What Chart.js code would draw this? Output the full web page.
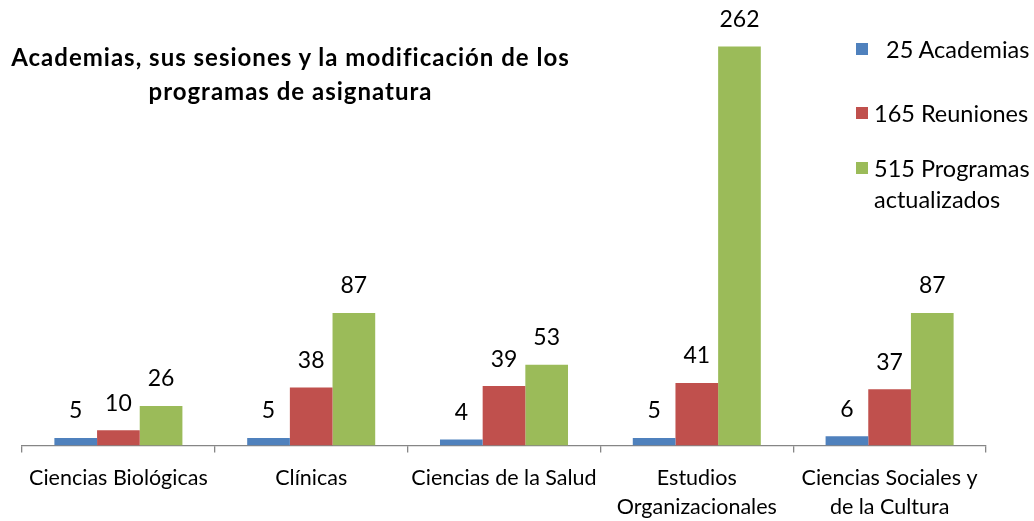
<!DOCTYPE html>
<html>
<head>
<meta charset="utf-8">
<script src="https://cdn.jsdelivr.net/npm/chart.js@4"></script>
<style>
  html, body { margin: 0; padding: 0; background: #fff; }
  #wrap { position: relative; width: 1034px; height: 521px; overflow: hidden; }
  canvas { position: absolute; left: 0; top: 0; }
  .title { position: absolute; left: 0; top: 40px; width: 581px; text-align: center;
           font-family: Lato, "Open Sans", sans-serif; font-weight: bold; font-size: 24px;
           letter-spacing: 1px; line-height: 34px; color: #000; white-space: nowrap; }
  .legend { position: absolute; left: 856px; top: 0; font-family: Lato, "Open Sans", sans-serif;
            font-size: 23.5px; color: #000; }
  .sw { position: absolute; left: 0; width: 12px; height: 12px; }
  .txt { position: absolute; white-space: nowrap; line-height: 30.5px; }
</style>
</head>
<body>
<div id="wrap">
  <canvas id="c" width="1034" height="521"></canvas>
  <div class="title">Academias, sus sesiones y la modificación de los<br>programas de asignatura</div>
  <div class="legend" id="legend"></div>
</div>
<script>
const categories = [
  "Ciencias Biológicas",
  "Clínicas",
  "Ciencias de la Salud",
  ["Estudios", "Organizacionales"],
  ["Ciencias Sociales y", "de la Cultura"]
];
const seriesNames = ["  25 Academias", "165 Reuniones", "515 Programas\nactualizados"];
const academias = [5, 5, 4, 5, 6];
const reuniones = [10, 38, 39, 41, 37];
const programas = [26, 87, 53, 262, 87];
const colors = ["#4F81BD", "#C0504D", "#9BBB59"];

// HTML legend
const legendEl = document.getElementById('legend');
const swatchTops = [43, 107, 162];
seriesNames.forEach((name, i) => {
  const sw = document.createElement('div');
  sw.className = 'sw';
  sw.style.top = swatchTops[i] + 'px';
  sw.style.background = colors[i];
  legendEl.appendChild(sw);
  const t = document.createElement('div');
  t.className = 'txt';
  t.style.left = '18px';
  t.style.top = (swatchTops[i] - 9) + 'px';
  t.innerHTML = name.replace(/ /g, '&nbsp;').replace('\n', '<br>');
  legendEl.appendChild(t);
});

const valueLabels = {
  id: 'valueLabels',
  afterDatasetsDraw(chart) {
    const ctx = chart.ctx;
    ctx.save();
    ctx.font = '23px Lato, "Open Sans", sans-serif';
    ctx.fillStyle = '#000';
    ctx.textAlign = 'center';
    ctx.textBaseline = 'middle';
    chart.data.datasets.forEach((ds, di) => {
      const meta = chart.getDatasetMeta(di);
      meta.data.forEach((bar, i) => {
        ctx.fillText(String(ds.data[i]), bar.x, bar.y - 27);
      });
    });
    ctx.restore();
  }
};

new Chart(document.getElementById('c'), {
  type: 'bar',
  data: {
    labels: categories,
    datasets: [
      { label: seriesNames[0], data: academias, backgroundColor: colors[0] },
      { label: seriesNames[1], data: reuniones, backgroundColor: colors[1] },
      { label: seriesNames[2], data: programas, backgroundColor: colors[2] }
    ]
  },
  options: {
    responsive: false,
    animation: false,
    layout: { padding: { left: 22, right: 48, top: 19, bottom: 0 } },
    datasets: { bar: { categoryPercentage: 0.664, barPercentage: 1.0 } },
    plugins: { legend: { display: false }, title: { display: false }, tooltip: { enabled: false } },
    scales: {
      x: {
        offset: true,
        grid: { offset: true, drawOnChartArea: false, drawTicks: true, tickLength: 7, color: '#868686', lineWidth: 1.3 },
        border: { display: true, color: '#868686', width: 1.3 },
        ticks: { color: '#000', font: { family: 'Lato, "Open Sans", sans-serif', size: 21.5, lineHeight: 1.35 }, padding: 11, maxRotation: 0, autoSkip: false },
        afterFit(scale) { scale.height = 75.5; }
      },
      y: {
        display: false,
        min: 0,
        max: 280
      }
    }
  },
  plugins: [valueLabels]
});
</script>
</body>
</html>
